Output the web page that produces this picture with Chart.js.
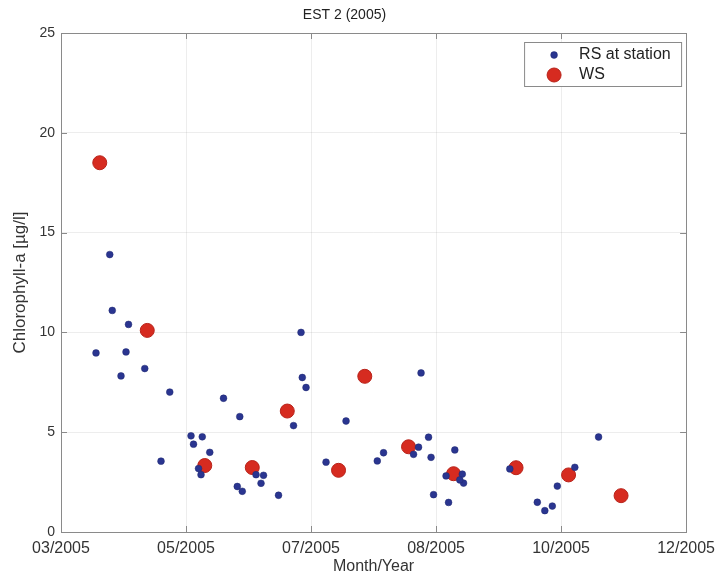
<!DOCTYPE html>
<html>
<head>
<meta charset="utf-8">
<title>EST 2 (2005)</title>
<script src="https://cdn.jsdelivr.net/npm/chart.js@4.4.0/dist/chart.umd.min.js"></script>
<style>
    html, body { margin: 0; padding: 0; background: #fff; }
    #wrap { width: 722px; height: 578px; }
</style>
</head>
<body>
<div id="wrap"><canvas id="chlChart" width="722" height="578"></canvas></div>
<script>
// x is measured in tick steps: 0 = first tick label, 5 = last one
const tickLabels = ['03/2005', '05/2005', '07/2005', '08/2005', '10/2005', '12/2005'];

// RS at station
const rsX = [0.28, 0.39, 0.41, 0.48, 0.52, 0.54, 0.67, 0.80, 0.87, 1.04,
             1.06, 1.13, 1.19, 1.10, 1.12, 1.30, 1.43, 1.41, 1.45, 1.56,
             1.62, 1.60, 1.74, 1.86, 1.92, 1.93, 1.96, 2.12, 2.28, 2.53,
             2.58, 2.88, 2.94, 2.86, 2.82, 2.96, 2.98, 3.10, 3.15, 3.08,
             3.21, 3.22, 3.19, 3.59, 4.11, 3.97, 3.81, 3.87, 3.93, 4.30];
const rsY = [8.97, 13.9, 11.1, 7.82, 9.02, 10.4, 8.19, 3.55, 7.01, 4.82,
             4.40, 4.77, 3.99, 3.18, 2.87, 6.70, 5.78, 2.28, 2.04, 2.87,
             2.84, 2.44, 1.84, 5.33, 10.0, 7.74, 7.24, 3.50, 5.56, 3.56,
             3.97, 7.97, 4.75, 4.25, 3.89, 3.74, 1.87, 1.48, 4.11, 2.81,
             2.90, 2.45, 2.61, 3.16, 3.24, 2.30, 1.49, 1.07, 1.30, 4.76];

// WS
const wsX = [0.31, 0.69, 1.15, 1.53, 1.81, 2.22, 2.43, 2.78, 3.14, 3.64, 4.06, 4.48];
const wsY = [18.5, 10.1, 3.33, 3.23, 6.06, 3.09, 7.80, 4.27, 2.92, 3.22, 2.86, 1.82];

const yTicks = [0, 5, 10, 15, 20, 25];

function toPoints(xs, ys) {
    return xs.map((x, i) => ({ x: x, y: ys[i] }));
}

const BLUE = '#2a3590';
const RED = '#d62b20';

// box around the axes plus MATLAB style inward ticks
const framePlugin = {
    id: 'frame',
    afterDatasetsDraw(chart) {
        const { ctx, chartArea: a, scales } = chart;
        ctx.save();
        ctx.strokeStyle = '#8a8a8a';
        ctx.lineWidth = 1;
        ctx.strokeRect(Math.round(a.left) + 0.5, Math.round(a.top) + 0.5,
            Math.round(a.right - a.left), Math.round(a.bottom - a.top));
        ctx.beginPath();
        scales.x.ticks.forEach(t => {
            const px = Math.round(scales.x.getPixelForValue(t.value)) + 0.5;
            ctx.moveTo(px, a.bottom); ctx.lineTo(px, a.bottom - 6);
            ctx.moveTo(px, a.top); ctx.lineTo(px, a.top + 6);
        });
        scales.y.ticks.forEach(t => {
            const py = Math.round(scales.y.getPixelForValue(t.value)) + 0.5;
            ctx.moveTo(a.left, py); ctx.lineTo(a.left + 6, py);
            ctx.moveTo(a.right, py); ctx.lineTo(a.right - 6, py);
        });
        ctx.stroke();
        ctx.restore();
    }
};

// legend box inside the upper right corner
const insideLegend = {
    id: 'insideLegend',
    afterDraw(chart) {
        const { ctx, chartArea: a } = chart;
        const w = 157, h = 44;
        const x0 = a.right - 5 - w, y0 = a.top + 9;
        ctx.save();
        ctx.fillStyle = '#fff';
        ctx.fillRect(x0, y0, w, h);
        ctx.strokeStyle = '#8a8a8a';
        ctx.lineWidth = 1;
        ctx.strokeRect(x0 + 0.5, y0 + 0.5, w, h);
        ctx.font = '16px "Liberation Sans", Arial, sans-serif';
        ctx.textBaseline = 'middle';
        ctx.fillStyle = '#222';
        chart.data.datasets.forEach((ds, i) => {
            const cy = y0 + 13 + i * 20;
            ctx.beginPath();
            ctx.arc(x0 + 30, cy, ds.pointRadius, 0, Math.PI * 2);
            ctx.fillStyle = ds.backgroundColor;
            ctx.fill();
            ctx.lineWidth = ds.borderWidth;
            ctx.strokeStyle = ds.borderColor;
            ctx.stroke();
            ctx.fillStyle = '#222';
            ctx.fillText(ds.label, x0 + 55, cy);
        });
        ctx.restore();
    }
};

document.addEventListener('DOMContentLoaded', function() {
    const ctx = document.getElementById('chlChart');

    new Chart(ctx, {
        type: 'scatter',
        data: {
            datasets: [{
                label: 'RS at station',
                data: toPoints(rsX, rsY),
                backgroundColor: BLUE,
                borderColor: '#1e2870',
                borderWidth: 0.5,
                pointRadius: 3.4
            }, {
                label: 'WS',
                data: toPoints(wsX, wsY),
                backgroundColor: RED,
                borderColor: '#b8231a',
                borderWidth: 1,
                pointRadius: 7
            }]
        },
        options: {
            responsive: false,
            animation: false,
            layout: { padding: { top: 0, right: 33, bottom: 0, left: 0 } },
            plugins: {
                legend: { display: false },
                tooltip: { enabled: false },
                title: {
                    display: true,
                    text: 'EST 2 (2005)',
                    color: '#222',
                    font: { family: '"Liberation Sans", Arial, sans-serif', size: 14, weight: 'normal' },
                    padding: { top: 6.5, bottom: 9.7 }
                }
            },
            scales: {
                x: {
                    type: 'linear',
                    min: 0,
                    max: tickLabels.length - 1,
                    afterFit: scale => { scale.height = 46; },
                    afterBuildTicks: scale => {
                        scale.ticks = tickLabels.map((_, i) => ({ value: i }));
                    },
                    ticks: {
                        callback: value => tickLabels[value],
                        color: '#333',
                        maxRotation: 0,
                        autoSkip: false,
                        padding: 7,
                        font: { family: '"Liberation Sans", Arial, sans-serif', size: 16 }
                    },
                    grid: { color: 'rgba(0,0,0,0.07)', drawTicks: false },
                    border: { display: false },
                    title: {
                        display: true,
                        text: 'Month/Year',
                        color: '#333',
                        font: { family: '"Liberation Sans", Arial, sans-serif', size: 16 },
                        padding: { top: 0, bottom: 2 }
                    }
                },
                y: {
                    min: 0,
                    max: 25,
                    afterFit: scale => { scale.width = 61; },
                    afterBuildTicks: scale => {
                        scale.ticks = yTicks.map(v => ({ value: v }));
                    },
                    ticks: {
                        color: '#333',
                        padding: 6,
                        font: { family: '"Liberation Sans", Arial, sans-serif', size: 14 }
                    },
                    grid: { color: 'rgba(0,0,0,0.07)', drawTicks: false },
                    border: { display: false },
                    title: {
                        display: true,
                        text: 'Chlorophyll-a [µg/l]',
                        color: '#333',
                        font: { family: '"Liberation Sans", Arial, sans-serif', size: 17 },
                        padding: { top: 10, bottom: 0 }
                    }
                }
            }
        },
        plugins: [framePlugin, insideLegend]
    });
});
</script>
</body>
</html>
